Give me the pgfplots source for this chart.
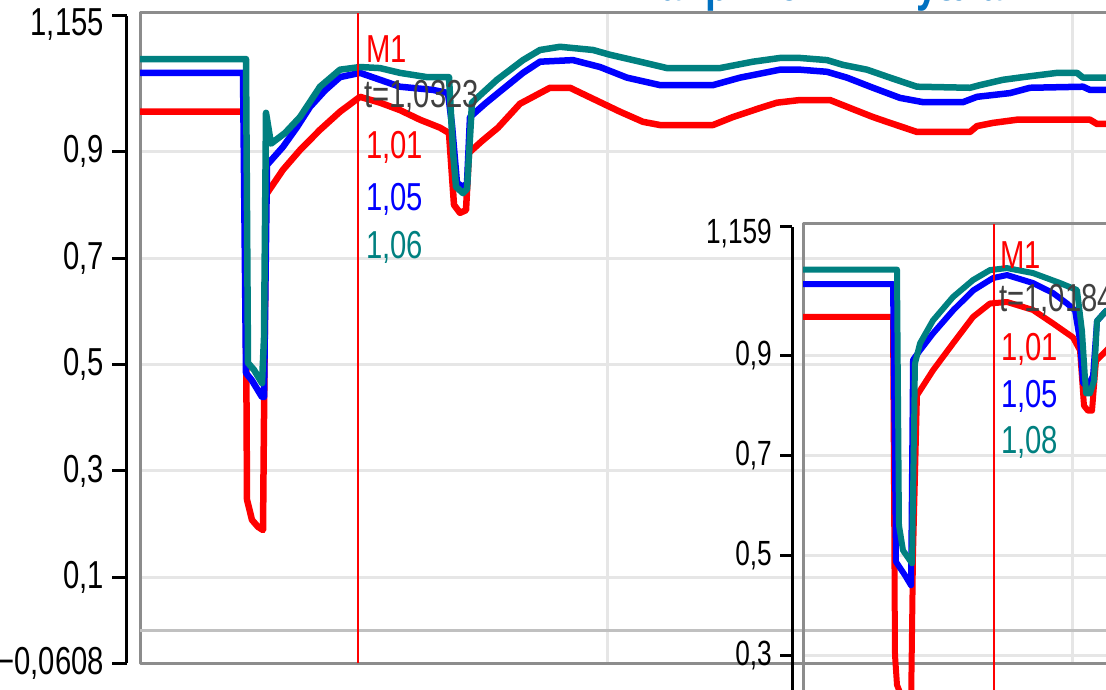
\documentclass[border=0pt]{standalone}
\usepackage{pgfplots}
\pgfplotsset{compat=1.18}
\usepackage{fontspec}
\setmainfont{Liberation Sans}[FakeStretch=0.75]
\definecolor{tealc}{RGB}{0,128,128}
\definecolor{framegray}{RGB}{140,140,140}
\definecolor{gridgray}{RGB}{230,230,230}
\definecolor{zerogray}{RGB}{192,192,192}
\definecolor{labgray}{RGB}{64,64,64}
\definecolor{titleblue}{RGB}{0,112,192}
\newcommand{\tf}{\fontsize{39}{39}\selectfont}
\newcommand{\itf}{\fontsize{35}{35}\selectfont}
\begin{document}
\begin{tikzpicture}[x=1pt,y=1pt]
\useasboundingbox (0,0) rectangle (1106,689);
\clip (0,0) rectangle (1106,689);
% ---------------- main axis ----------------
\begin{axis}[at={(140pt,26pt)}, anchor=south west, scale only axis,
  width=1100pt, height=650pt, xmin=140, xmax=1240, ymin=-0.0608, ymax=1.1605,
  clip=false, axis line style={draw=framegray, line width=3pt},
  xtick={607,1072}, xticklabels={}, ytick={0.1,0.3,0.5,0.7,0.9}, yticklabels={},
  major tick length=0pt, xmajorgrids, ymajorgrids,
  grid style={gridgray, line width=3pt},
  extra y ticks={0}, extra y tick labels={},
  extra y tick style={grid style={zerogray, line width=3pt}},
  line join=round]
\addplot[red, line width=6.5pt] coordinates {(140,0.975)(245,0.975)(247,0.246)(252,0.208)(258,0.195)(263,0.189)(266,0.819)(283,0.866)(300,0.903)(320,0.941)(340,0.975)(360,1.003)(380,0.992)(400,0.978)(420,0.960)(440,0.945)(449,0.935)(454,0.800)(460,0.785)(466,0.790)(469,0.898)(482,0.92)(498,0.945)(520,0.990)(540,1.010)(550,1.020)(570,1.020)(600,0.993)(620,0.975)(643,0.956)(660,0.950)(713,0.950)(733,0.965)(760,0.982)(777,0.992)(800,0.997)(830,0.997)(850,0.982)(873,0.965)(890,0.954)(917,0.937)(970,0.937)(977,0.948)(993,0.954)(1017,0.960)(1090,0.960)(1097,0.952)(1240,0.952)};
\addplot[blue, line width=6.5pt] coordinates {(140,1.048)(243,1.048)(246,0.484)(252,0.47)(262,0.439)(264,0.439)(267,0.875)(283,0.909)(297,0.946)(310,0.984)(325,1.015)(340,1.040)(360,1.048)(380,1.035)(400,1.022)(433,1.016)(448,1.010)(452,0.95)(457,0.841)(463,0.834)(467,0.84)(470,0.965)(485,0.99)(498,1.010)(523,1.048)(540,1.069)(573,1.072)(600,1.059)(627,1.039)(660,1.025)(713,1.025)(740,1.039)(780,1.054)(800,1.054)(827,1.050)(847,1.039)(873,1.020)(900,1.001)(923,0.993)(963,0.993)(977,1.003)(1010,1.010)(1030,1.020)(1083,1.022)(1090,1.016)(1240,1.016)};
\addplot[tealc, line width=6.5pt] coordinates {(140,1.074)(246,1.074)(248,0.503)(254,0.49)(262,0.465)(264,0.55)(266,0.973)(271,0.915)(285,0.935)(300,0.965)(320,1.022)(340,1.054)(360,1.059)(380,1.057)(400,1.048)(427,1.040)(449,1.040)(453,0.90)(456,0.834)(463,0.822)(467,0.83)(472,0.992)(497,1.035)(523,1.072)(540,1.091)(560,1.097)(593,1.091)(610,1.082)(640,1.069)(667,1.057)(720,1.057)(753,1.069)(780,1.076)(800,1.076)(827,1.072)(843,1.063)(867,1.054)(890,1.039)(917,1.022)(970,1.020)(980,1.025)(1003,1.035)(1023,1.040)(1057,1.048)(1077,1.048)(1083,1.039)(1240,1.039)};
\addplot[red, line width=2pt] coordinates {(358,-0.0608)(358,1.1605)};
\node[anchor=base west, inner sep=0pt, text=red, font=\tf] at (axis cs:366,1.067) {M1};
\node[anchor=base west, inner sep=0pt, text=labgray, font=\tf] at (axis cs:364,0.982) {t=1,0323};
\node[anchor=base west, inner sep=0pt, text=red, font=\tf] at (axis cs:366,0.888) {1,01};
\node[anchor=base west, inner sep=0pt, text=blue, font=\tf] at (axis cs:366,0.790) {1,05};
\node[anchor=base west, inner sep=0pt, text=tealc, font=\tf] at (axis cs:366,0.700) {1,06};
\end{axis}
% main y axis (black, offset)
\begin{axis}[at={(127pt,26pt)}, anchor=south west, scale only axis,
  width=1pt, height=647pt, xmin=0, xmax=1, ymin=-0.0608, ymax=1.155,
  axis y line=left, axis x line=none,
  y axis line style={black, line width=3pt, -},
  ytick={-0.0608,0.1,0.3,0.5,0.7,0.9,1.155},
  yticklabels={{−0,0608},{0,1},{0,3},{0,5},{0,7},{0,9},{\raisebox{-20pt}[0pt][0pt]{1,155}}},
  tick align=outside, major tick length=15pt,
  ytick style={black, line width=3pt},
  yticklabel style={font=\tf, inner sep=0pt, anchor=east, xshift=-8pt}]
\end{axis}
% ---------------- inset axis ----------------
\begin{axis}[at={(803pt,-16pt)}, anchor=south west, scale only axis,
  width=600pt, height=481.3pt, xmin=803, xmax=1403, ymin=0.2, ymax=1.165,
  clip=false, axis line style={draw=framegray, line width=3pt},
  xtick=\empty, ytick={0.3,0.5,0.7,0.9}, yticklabels={},
  major tick length=0pt, ymajorgrids,
  grid style={gridgray, line width=3pt}, line join=round]
\addplot[red, line width=6pt] coordinates {(803,0.978)(893,0.978)(895,0.30)(897,0.24)(905,0.20)(911,0.19)(913,0.5)(917,0.821)(933,0.871)(953,0.925)(973,0.978)(990,1.005)(1007,1.008)(1033,0.992)(1053,0.965)(1073,0.937)(1080,0.911)(1084,0.80)(1088,0.79)(1092,0.79)(1096,0.89)(1106,0.91)(1120,0.94)};
\addplot[blue, line width=6pt] coordinates {(803,1.044)(893,1.044)(896,0.487)(905,0.46)(911,0.440)(913,0.892)(920,0.911)(933,0.945)(953,0.991)(973,1.031)(993,1.056)(1007,1.062)(1033,1.046)(1053,1.026)(1067,1.005)(1075,0.991)(1080,0.93)(1083,0.845)(1088,0.84)(1093,0.86)(1097,0.97)(1106,0.99)(1120,1.0)};
\addplot[tealc, line width=6pt] coordinates {(803,1.073)(897,1.073)(899,0.56)(903,0.51)(912,0.484)(915,0.885)(920,0.925)(933,0.971)(953,1.018)(973,1.052)(990,1.072)(1007,1.076)(1033,1.066)(1060,1.046)(1077,1.032)(1082,0.95)(1086,0.825)(1090,0.825)(1094,0.85)(1097,0.97)(1106,0.99)(1120,1.0)};
\addplot[red, line width=2pt] coordinates {(994,0.2)(994,1.165)};
\node[anchor=base west, inner sep=0pt, text=red, font=\tf] at (axis cs:1000,1.076) {M1};
\node[anchor=base west, inner sep=0pt, text=labgray, font=\tf] at (axis cs:999,0.988) {t=1,0184};
\node[anchor=base west, inner sep=0pt, text=red, font=\tf] at (axis cs:1001,0.891) {1,01};
\node[anchor=base west, inner sep=0pt, text=blue, font=\tf] at (axis cs:1001,0.797) {1,05};
\node[anchor=base west, inner sep=0pt, text=tealc, font=\tf] at (axis cs:1001,0.705) {1,08};
\end{axis}
% inset y axis (black, offset)
\begin{axis}[at={(792pt,-16pt)}, anchor=south west, scale only axis,
  width=1pt, height=478.3pt, xmin=0, xmax=1, ymin=0.2, ymax=1.159,
  axis y line=left, axis x line=none,
  y axis line style={black, line width=3pt, -},
  ytick={0.3,0.5,0.7,0.9,1.159},
  yticklabels={{0,3},{0,5},{0,7},{0,9},{\raisebox{-17pt}[0pt][0pt]{1,159}}},
  tick align=outside, major tick length=12pt,
  ytick style={black, line width=3pt},
  yticklabel style={font=\itf, inner sep=0pt, anchor=east, xshift=-8pt}]
\end{axis}
% title (mostly outside the visible area, as in the reference)
\node[anchor=base west, inner sep=0pt, text=titleblue, font=\bfseries\fontsize{52}{52}\selectfont] at (632pt,688pt) {Напряжения в узлах};
\end{tikzpicture}
\end{document}
